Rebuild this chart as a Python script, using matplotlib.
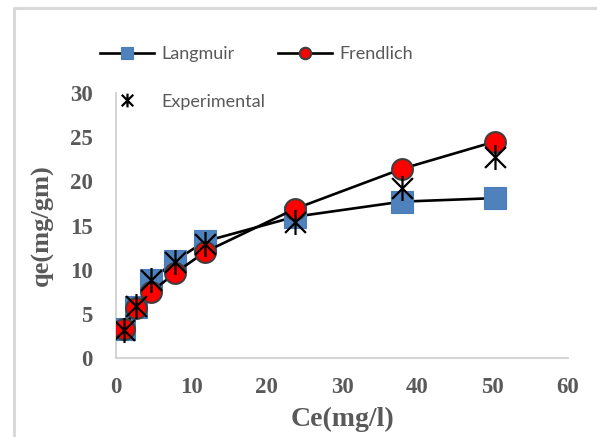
import matplotlib
matplotlib.use("Agg")
import matplotlib.pyplot as plt
from matplotlib.path import Path
from matplotlib.lines import Line2D

# Data
ce = [1.0, 2.7, 4.7, 7.8, 11.8, 23.8, 37.9, 50.3]
langmuir = [3.3, 5.8, 8.8, 11.0, 13.2, 16.0, 17.7, 18.1]
frendlich = [3.3, 5.7, 7.5, 9.6, 12.0, 16.9, 21.4, 24.5]
experimental = [3.2, 5.9, 8.8, 10.9, 12.9, 15.4, 19.2, 22.7]
xticks = [0, 10, 20, 30, 40, 50, 60]
yticks = [0, 5, 10, 15, 20, 25, 30]

W, H = 597, 437
fig = plt.figure(figsize=(W / 100, H / 100), dpi=100)
ax = fig.add_axes([116 / W, 1 - 358 / H, (568 - 116) / W, (358 - 93) / H])

star = Path([(-1, -1), (1, 1), (-1, 1), (1, -1), (0, -1.2), (0, 1.2)],
            [Path.MOVETO, Path.LINETO, Path.MOVETO, Path.LINETO, Path.MOVETO, Path.LINETO])

l1, = ax.plot(ce, langmuir, color="black", lw=1.9, marker="s", markersize=16,
              markerfacecolor="#4F81BD", markeredgecolor="#4A7EBB", markeredgewidth=0.8,
              label="Langmuir", zorder=3)
l2, = ax.plot(ce, frendlich, color="black", lw=1.9, marker="o", markersize=15,
              markerfacecolor="#FF0000", markeredgecolor="#3F3F3F", markeredgewidth=1.5,
              label="Frendlich", zorder=4)
l3, = ax.plot(ce, experimental, linestyle="none", marker=star, markersize=18,
              markerfacecolor="none", markeredgecolor="black", markeredgewidth=1.6,
              label="Experimental", zorder=5)

ax.set_xlim(0, 60)
ax.set_ylim(0, 30)
ax.set_xticks(xticks)
ax.set_yticks(yticks)
tick_font = dict(family="Liberation Serif", weight="bold", size=16.5)
ax.set_xticklabels([str(v) for v in xticks], fontdict=tick_font, color="#595959")
ax.set_yticklabels([str(v) for v in yticks], fontdict=tick_font, color="#595959")
ax.tick_params(axis="both", length=0)
ax.tick_params(axis="y", pad=17)
ax.tick_params(axis="x", pad=14)
for s in ["top", "right"]:
    ax.spines[s].set_visible(False)
for s in ["left", "bottom"]:
    ax.spines[s].set_color("#D0D0D0")
    ax.spines[s].set_linewidth(1.3)

ax.set_xlabel("Ce(mg/l)", family="Liberation Serif", weight="bold", size=20,
              color="#595959", labelpad=6)
ax.set_ylabel("qe(mg/gm)", family="Liberation Serif", weight="bold", size=19,
              color="#595959")
ax.yaxis.set_label_coords((54 - 116) / 452, 0.5)

leg = fig.legend(handles=[l1, l3, l2], ncol=2, loc="upper left",
                 bbox_to_anchor=(100 / W, 1 - 46 / H), frameon=False,
                 borderpad=0, borderaxespad=0, handlelength=3.0, handletextpad=0.4,
                 columnspacing=0.7, labelspacing=1.75, markerscale=0.55,
                 prop=dict(family="Lato", size=13))
for t in leg.get_texts():
    t.set_color("#595959")

# Outer chart frame
fig.add_artist(Line2D([14 / W, 14 / W, 1.0], [0.0, 1 - 8 / H, 1 - 8 / H],
                      transform=fig.transFigure, color="#D9D9D9", lw=2.2))

fig.savefig("out.png", dpi=100)
